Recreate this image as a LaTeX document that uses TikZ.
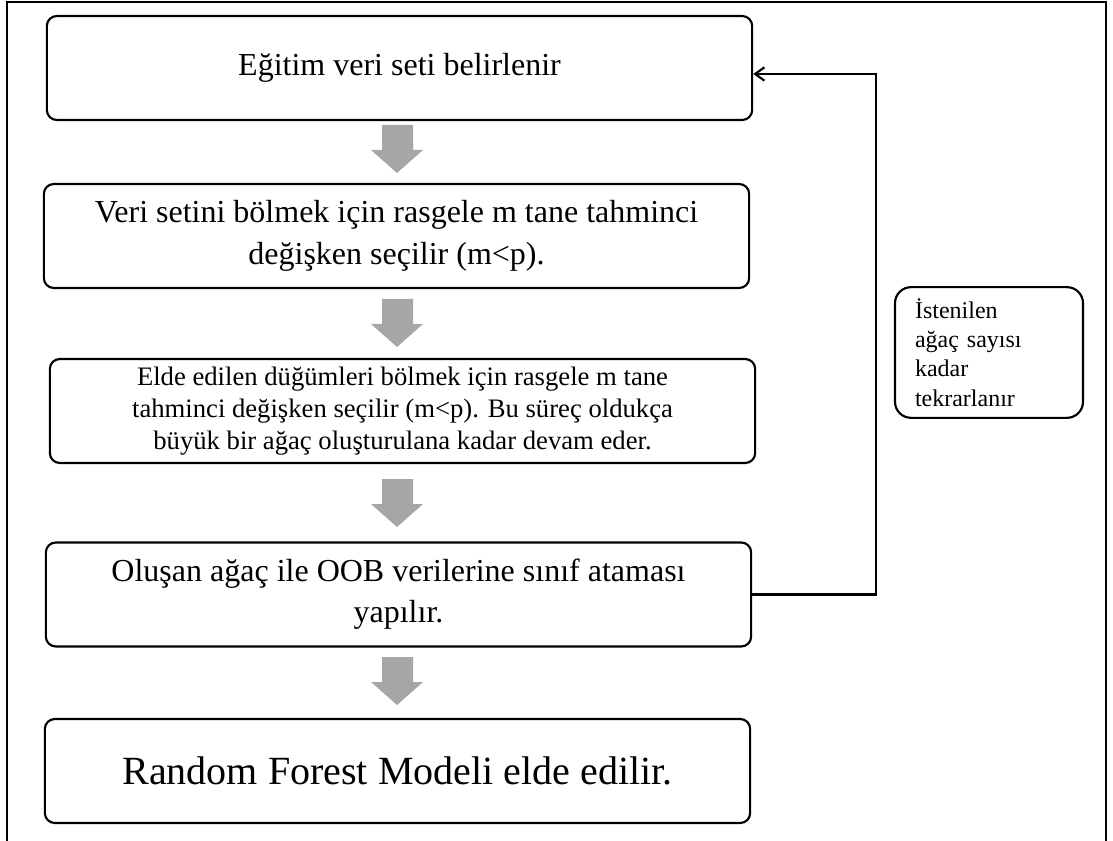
\documentclass[tikz,border=0pt]{standalone}
\usepackage{fontspec}
\setmainfont{Liberation Serif}
\usetikzlibrary{arrows.meta}

\begin{document}
\begin{tikzpicture}[x=0.75pt, y=-0.75pt,
  stepbox/.style={draw, line width=1.6pt, rounded corners=7.5pt, minimum width=529pt, minimum height=78pt, inner sep=0pt, align=center, font=\fontsize{24}{31}\selectfont},
  notebox/.style={draw, line width=1.6pt, rounded corners=12pt, minimum width=141pt, minimum height=98pt, inner sep=0pt, text width=111pt, align=left, font=\fontsize{18}{22}\selectfont},
  graytip/.style={fill=black!35},
  loopline/.style={line width=1.6pt, -{Straight Barb[length=7pt,width=10pt,line width=1.6pt]}}]
\useasboundingbox (0,0) rectangle (1113,841);
\draw[line width=1.5pt] (7,841) -- (7,2) -- (1106,2) -- (1106,841);

\node[stepbox] (egitim) at (399.5,68) {Eğitim veri seti belirlenir};
\node[stepbox] (secim) at (396.5,236) {Veri setini bölmek için rasgele m tane tahminci\\ değişken seçilir (m<p).};
\node[stepbox, font=\fontsize{20}{24}\selectfont] (bolme) at (402.5,411) {Elde edilen düğümleri bölmek için rasgele m tane\\ tahminci değişken seçilir (m<p). Bu süreç oldukça\\ büyük bir ağaç oluşturulana kadar devam eder.};
\node[stepbox] (atama) at (398.5,594.5) {Oluşan ağaç ile OOB verilerine sınıf ataması\\ yapılır.};
\node[stepbox, font=\fontsize{30}{36}\selectfont] (model) at (397.5,771) {Random Forest Modeli elde edilir.};
\node[notebox] (tekrar) at (989,352.5) {İstenilen\\ ağaç sayısı\\ kadar\\ tekrarlanır};

% gray block arrows between the steps
\foreach \y in {125,299,479,657}
  \fill[graytip] (382,\y) -- (413,\y) -- (413,\y+25) -- (423,\y+25) -- (397,\y+48) -- (371,\y+25) -- (382,\y+25) -- cycle;

\coordinate (donus) at (876,74);
\draw[loopline] (atama.east) -| (donus) -- (donus -| egitim.east);
\end{tikzpicture}
\end{document}
